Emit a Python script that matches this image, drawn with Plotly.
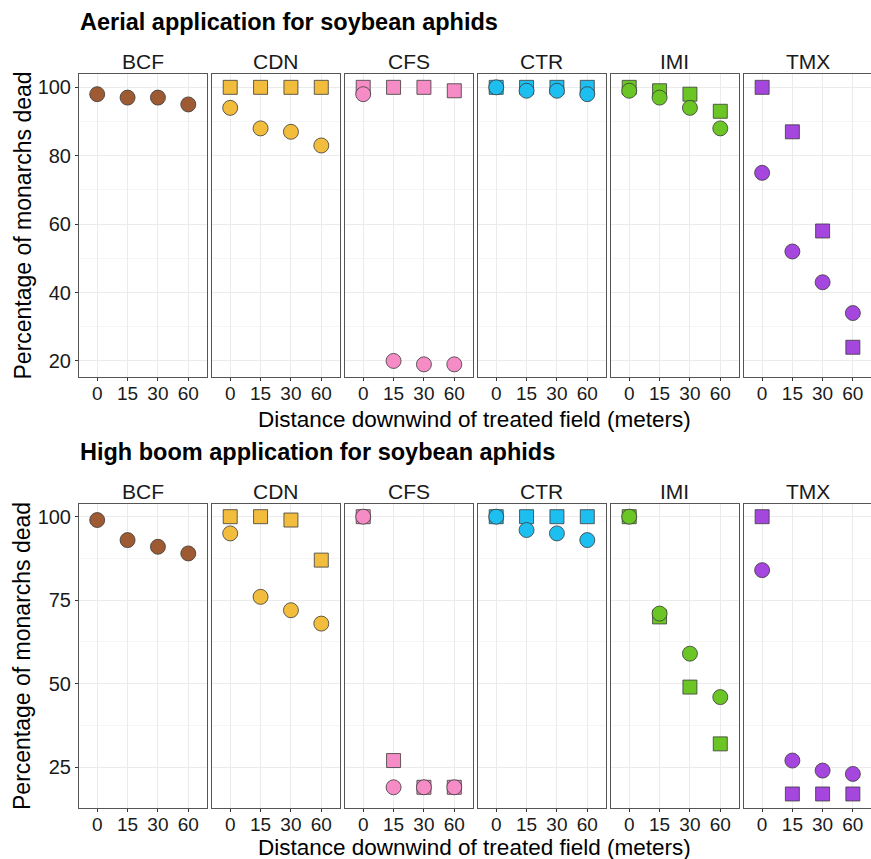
import plotly.graph_objects as go

W, H = 871, 859

distances = ["0", "15", "30", "60"]
pesticides = ["BCF", "CDN", "CFS", "CTR", "IMI", "TMX"]
colors = {"BCF": "#9E5A32", "CDN": "#F2BD3D", "CFS": "#F68CC6",
          "CTR": "#1DBEF0", "IMI": "#6BC524", "TMX": "#A546DE"}

# Aerial application (top) - circles and squares
aerial_circle = {
    "BCF": [98, 97, 97, 95],
    "CDN": [94, 88, 87, 83],
    "CFS": [98, 20, 19, 19],
    "CTR": [100, 99, 99, 98],
    "IMI": [99, 97, 94, 88],
    "TMX": [75, 52, 43, 34],
}
aerial_square = {
    "CDN": [100, 100, 100, 100],
    "CFS": [100, 100, 100, 99],
    "CTR": [100, 100, 100, 100],
    "IMI": [100, 99, 98, 93],
    "TMX": [100, 87, 58, 24],
}
# High boom application (bottom)
boom_circle = {
    "BCF": [99, 93, 91, 89],
    "CDN": [95, 76, 72, 68],
    "CFS": [100, 19, 19, 19],
    "CTR": [100, 96, 95, 93],
    "IMI": [100, 71, 59, 46],
    "TMX": [84, 27, 24, 23],
}
boom_square = {
    "CDN": [100, 100, 99, 87],
    "CFS": [100, 27, 19, 19],
    "CTR": [100, 100, 100, 100],
    "IMI": [100, 70, 49, 32],
    "TMX": [100, 17, 17, 17],
}

top_title = "Aerial application for soybean aphids"
bottom_title = "High boom application for soybean aphids"
x_title = "Distance downwind of treated field (meters)"
y_title = "Percentage of monarchs dead"

FONT = "Liberation Sans, Arial, sans-serif"

# panel geometry in pixels
panel_left = [79, 212, 345, 478, 611, 744]
panel_w = 127.5
rows = [
    dict(top=74, bottom=377, rng=[15.3, 103.9], dtick=20, minor=10,
         circ=aerial_circle, sq=aerial_square, title=top_title,
         title_y=22, strip_y=61, xt_y=419),
    dict(top=504, bottom=808, rng=[12.8, 103.8], dtick=25, minor=12.5,
         circ=boom_circle, sq=boom_square, title=bottom_title,
         title_y=452, strip_y=491, xt_y=847),
]

def px(x):
    return x / W

def py(y):
    return 1 - y / H

def build(standoff):
    fig = go.Figure()
    annotations = []
    layout = {}
    idx = 0
    for r, row in enumerate(rows):
        for c, p in enumerate(pesticides):
            idx += 1
            xa = "x" if idx == 1 else f"x{idx}"
            ya = "y" if idx == 1 else f"y{idx}"
            xk = "xaxis" if idx == 1 else f"xaxis{idx}"
            yk = "yaxis" if idx == 1 else f"yaxis{idx}"
            x0 = px(panel_left[c])
            x1 = min(1.0, px(panel_left[c] + panel_w))
            xdict = dict(
                domain=[x0, x1], anchor=ya, type="category",
                categoryorder="array", categoryarray=distances,
                range=[-0.6, 3.6], showline=True, mirror=True,
                linecolor="#555555", linewidth=1, ticks="outside", ticklen=3,
                tickcolor="#333333", showgrid=True, gridcolor="#EBEBEB",
                gridwidth=1, zeroline=False,
                tickfont=dict(family=FONT, size=19, color="#1a1a1a"),
            )
            if standoff is not None:
                xdict["ticklabelstandoff"] = standoff
            layout[xk] = xdict
            layout[yk] = dict(
                domain=[py(row["bottom"]), py(row["top"])], anchor=xa,
                range=row["rng"], dtick=row["dtick"], tick0=0,
                showline=True, mirror=True, linecolor="#555555", linewidth=1,
                ticks="outside" if c == 0 else "", ticklen=3, tickcolor="#333333",
                showticklabels=(c == 0), showgrid=True, gridcolor="#EBEBEB",
                gridwidth=1, zeroline=False,
                minor=dict(dtick=row["minor"], tick0=0, showgrid=True,
                           gridcolor="#F5F5F5", gridwidth=1, ticks=""),
                tickfont=dict(family=FONT, size=20, color="#1a1a1a"),
            )
            if p in row["sq"]:
                fig.add_trace(go.Scatter(
                    x=distances, y=row["sq"][p], mode="markers", xaxis=xa, yaxis=ya,
                    marker=dict(symbol="square", size=14, color=colors[p],
                                line=dict(color="#3a3a3a", width=0.8)),
                    showlegend=False, cliponaxis=False))
            fig.add_trace(go.Scatter(
                x=distances, y=row["circ"][p], mode="markers", xaxis=xa, yaxis=ya,
                marker=dict(symbol="circle", size=15, color=colors[p],
                            line=dict(color="#3a3a3a", width=0.8)),
                showlegend=False, cliponaxis=False))
            annotations.append(dict(
                text=p, x=px(panel_left[c] + panel_w / 2), y=py(row["strip_y"]),
                xref="paper", yref="paper", showarrow=False,
                xanchor="center", yanchor="middle",
                font=dict(family=FONT, size=21, color="#1a1a1a")))
        annotations.append(dict(
            text=f"<b>{row['title']}</b>", x=px(78), y=py(row["title_y"]),
            xref="paper", yref="paper", showarrow=False,
            xanchor="left", yanchor="middle",
            font=dict(family=FONT, size=23.5, color="#000000")))
        annotations.append(dict(
            text=x_title, x=px(475), y=py(row["xt_y"]),
            xref="paper", yref="paper", showarrow=False,
            xanchor="center", yanchor="middle",
            font=dict(family=FONT, size=22.5, color="#000000")))
        annotations.append(dict(
            text=y_title, x=px(22), y=py((row["top"] + row["bottom"]) / 2),
            xref="paper", yref="paper", showarrow=False, textangle=-90,
            xanchor="center", yanchor="middle",
            font=dict(family=FONT, size=23, color="#000000")))

    fig.update_layout(
        width=W, height=H, margin=dict(l=0, r=0, t=0, b=0),
        paper_bgcolor="white", plot_bgcolor="white",
        annotations=annotations, **layout)
    return fig

try:
    fig = build(-4)
except Exception:
    fig = build(None)

fig.write_html("out.html")
